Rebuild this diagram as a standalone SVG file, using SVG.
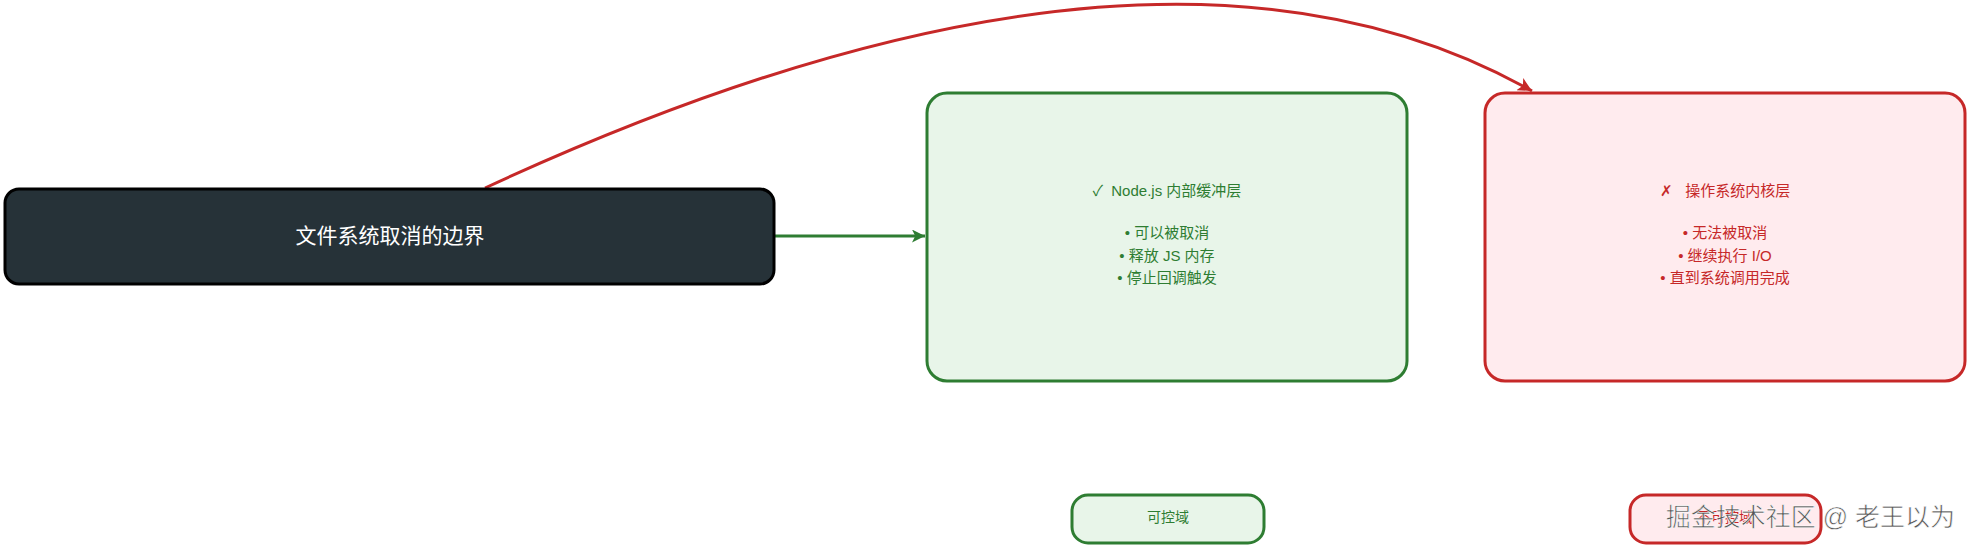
<svg xmlns="http://www.w3.org/2000/svg" width="1971" height="549" viewBox="0 0 1971 549">
<style>
text{font-family:"Liberation Sans","Noto Sans CJK SC",sans-serif;text-anchor:middle;white-space:pre}
.dark rect{fill:#263238;stroke:#000;stroke-width:3}
.dark text{fill:#fff;font-size:21px}
.ok rect{fill:#e8f5e9;stroke:#2e7d32;stroke-width:3}
.ok text{fill:#2e7d32;font-size:15px}
.no rect{fill:#ffebee;stroke:#c62828;stroke-width:3}
.no text{fill:#c62828;font-size:15px}
.small text{font-size:14px}
.wm{font-size:25px;fill:#555;stroke:#fff;stroke-width:0.6;text-anchor:end}
</style>
<defs>
<marker id="ag" viewBox="0 0 10 10" refX="10" refY="5" markerWidth="18" markerHeight="13" markerUnits="userSpaceOnUse" orient="auto"><path d="M0,0 L10,5 L0,10 L2.5,5 z" fill="#2e7d32"/></marker>
<marker id="ar" viewBox="0 0 10 10" refX="10" refY="5" markerWidth="20" markerHeight="14" markerUnits="userSpaceOnUse" orient="auto"><path d="M0,0 L10,5 L0,10 L2.5,5 z" fill="#c62828"/></marker>
</defs>
<g id="connectors" fill="none" stroke-width="3">
<path d="M774,236 L925,236" stroke="#2e7d32" marker-end="url(#ag)"/>
<path d="M485,188 Q1155,-122 1532,91" stroke="#c62828" marker-end="url(#ar)"/>
</g>
<g id="boundary" class="dark">
<rect x="5" y="189" width="769" height="95" rx="14"/>
<text x="390" y="243">文件系统取消的边界</text>
</g>
<g id="nodejs" class="ok">
<rect x="927" y="93" width="480" height="288" rx="20"/>
<text x="1167" y="195.5" xml:space="preserve">✓  Node.js 内部缓冲层</text>
<text x="1167" y="238">• 可以被取消</text>
<text x="1167" y="260.5">• 释放 JS 内存</text>
<text x="1167" y="283">• 停止回调触发</text>
</g>
<g id="kernel" class="no">
<rect x="1485" y="93" width="480" height="288" rx="20"/>
<text x="1725" y="195.5" xml:space="preserve">✗   操作系统内核层</text>
<text x="1725" y="238">• 无法被取消</text>
<text x="1725" y="260.5">• 继续执行 I/O</text>
<text x="1725" y="283">• 直到系统调用完成</text>
</g>
<g id="legend-ok" class="ok small">
<rect x="1072" y="495" width="192" height="48" rx="16"/>
<text x="1168" y="522">可控域</text>
</g>
<g id="legend-no" class="no small">
<rect x="1630" y="495" width="191" height="48" rx="16"/>
<text x="1725" y="522">不可控域</text>
</g>
<text class="wm" x="1955" y="526">掘金技术社区 @ 老王以为</text>
</svg>
